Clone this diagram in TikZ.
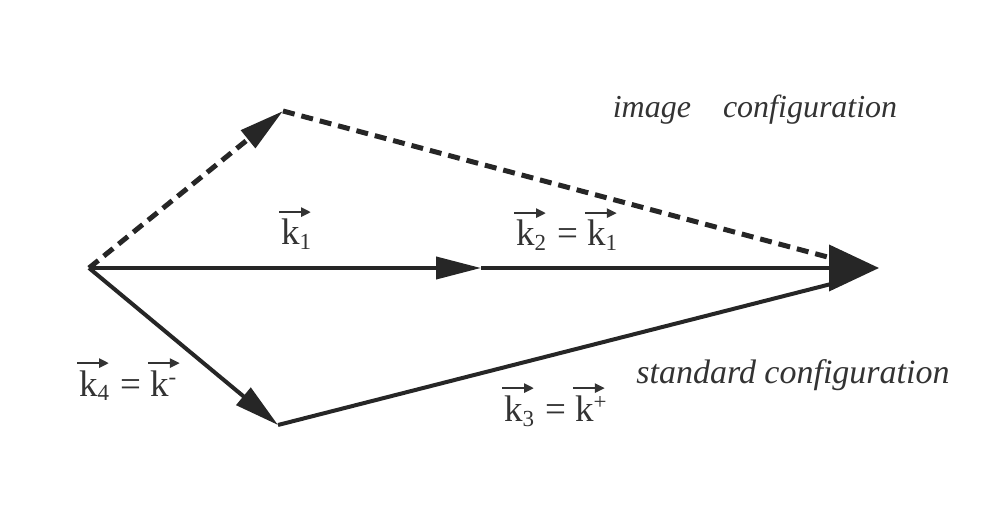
\documentclass[tikz,border=0pt]{standalone}
\usepackage{fontspec}
\setmainfont{Liberation Serif}
\usetikzlibrary{arrows.meta}
% k with a long arrow over it
\newcommand\kv{\tikz[baseline=(kk.base)]{\node[inner sep=0pt] (kk) {k};
 \draw[overlay,line width=2.6pt,-{Triangle[length=10pt,width=9pt]}] ([xshift=-2pt,yshift=7pt]kk.north west) -- ++(32pt,0pt);}}
\newcommand\sub[1]{\raisebox{-5pt}{\fontsize{23}{23}\selectfont #1}}
\newcommand\sups[1]{\raisebox{12pt}{\fontsize{23}{23}\selectfont #1}}
\newcommand\eq{\kern11pt=\kern9pt}
\tikzset{vec/.style={line width=4pt,color=black!85},
 dashvec/.style={line width=5pt,color=black!85,dash pattern={on 12pt off 7pt}},
 tip/.style={-{Triangle[length=45pt,width=22pt]}},
 bigtip/.style={-{Triangle[length=50pt,width=46pt]}},
 lab/.style={font=\fontsize{37}{40}\selectfont,color=black!80,inner sep=0pt,anchor=base west},
 conf/.style={font=\fontsize{32}{34}\selectfont\itshape,color=black!80}}
\begin{document}
\begin{tikzpicture}[x=1pt,y=-1pt]
\useasboundingbox (0,0) rectangle (996,518);
\coordinate (O) at (89,268); \coordinate (A) at (283,111); \coordinate (M) at (481,268);
\coordinate (B) at (278,425); \coordinate (T) at (879,268);
\coordinate (Ta) at (835,259); \coordinate (Tb) at (835,283);
% image configuration
\draw[dashvec,tip] (O) -- (A); \draw[dashvec] (A) -- (Ta);
% standard configuration
\draw[vec,tip] (O) -- (B); \draw[vec] (B) -- (Tb);
\draw[vec,tip] (O) -- (M); \draw[vec,bigtip] (M) -- (T);
\node[lab] (k1) at (281,245) {\kv\sub{1}};
\node[lab] (k2) at (516,246) {\kv\sub{2}\eq\kv\sub{1}};
\node[lab] (k4) at (79,396) {\kv\sub{4}\eq\kv\sups{-}};
\node[lab] (k3) at (504,421) {\kv\sub{3}\eq\kv\sups{+}};
\node[conf] (img) at (755,110) {image\quad configuration};
\node[conf,font=\fontsize{34}{36}\selectfont\itshape] (std) at (793,375) {standard configuration};
\end{tikzpicture}
\end{document}
